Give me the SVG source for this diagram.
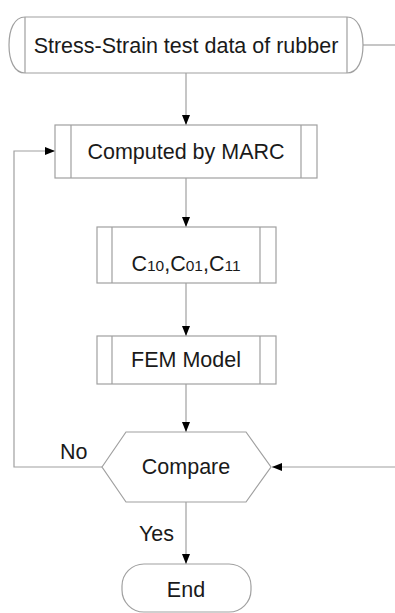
<svg xmlns="http://www.w3.org/2000/svg" width="395" height="613" viewBox="0 0 395 613">
<style>
.shape{fill:#fff;stroke:#a0a0a0;stroke-width:1.2}
.ln{fill:none;stroke:#a0a0a0;stroke-width:1.2}
.conn{fill:none;stroke:#a0a0a0;stroke-width:1.2}
text{font-family:"Liberation Sans",Arial,sans-serif;font-size:21.5px;fill:#1a1a1a}
.c{text-anchor:middle}
.sub{font-size:15.5px}
</style>
<defs>
<marker id="ah" markerWidth="10" markerHeight="8" refX="10" refY="4" orient="auto" markerUnits="userSpaceOnUse">
<path d="M0,0 L10,4 L0,8 Z" fill="#000"/>
</marker>
</defs>
<rect width="395" height="613" fill="#fff"/>
<g id="connectors">
<path class="conn" d="M363,45 H395"/>
<path class="conn" d="M186,73 V125" marker-end="url(#ah)"/>
<path class="conn" d="M186,178 V227" marker-end="url(#ah)"/>
<path class="conn" d="M186,283 V336" marker-end="url(#ah)"/>
<path class="conn" d="M186,384 V432" marker-end="url(#ah)"/>
<path class="conn" d="M102,467 H14 V151 H55" marker-end="url(#ah)"/>
<path class="conn" d="M395,467 H272" marker-end="url(#ah)"/>
<path class="conn" d="M186,502 V564" marker-end="url(#ah)"/>
<text x="60" y="459">No</text>
<text x="139" y="541">Yes</text>
</g>
<g id="start">
<path class="shape" d="M25,17 H347 C358,17 363,30 363,45 C363,60 358,73 347,73 H25 C14,73 9,60 9,45 C9,30 14,17 25,17 Z"/>
<path class="ln" d="M25,17 V73 M347,17 V73"/>
<text class="c" x="186" y="53">Stress-Strain test data of rubber</text>
</g>
<g id="computed">
<rect class="shape" x="55" y="125" width="262" height="53"/>
<path class="ln" d="M71,125 V178 M301,125 V178"/>
<text class="c" x="186" y="159">Computed by MARC</text>
</g>
<g id="coeffs">
<rect class="shape" x="97" y="227" width="179" height="56"/>
<path class="ln" d="M112,227 V283 M260,227 V283"/>
<text class="c" x="186" y="271">C<tspan class="sub">10</tspan>,C<tspan class="sub">01</tspan>,C<tspan class="sub">11</tspan></text>
</g>
<g id="fem">
<rect class="shape" x="97" y="336" width="179" height="48"/>
<path class="ln" d="M112,336 V384 M260,336 V384"/>
<text class="c" x="186" y="367">FEM Model</text>
</g>
<g id="compare">
<polygon class="shape" points="102,467 126,432 246,432 271,467 246,502 126,502"/>
<text class="c" x="186" y="474">Compare</text>
</g>
<g id="end">
<rect class="shape" x="122" y="564" width="129" height="48" rx="22" ry="22"/>
<text class="c" x="186" y="597">End</text>
</g>
</svg>
